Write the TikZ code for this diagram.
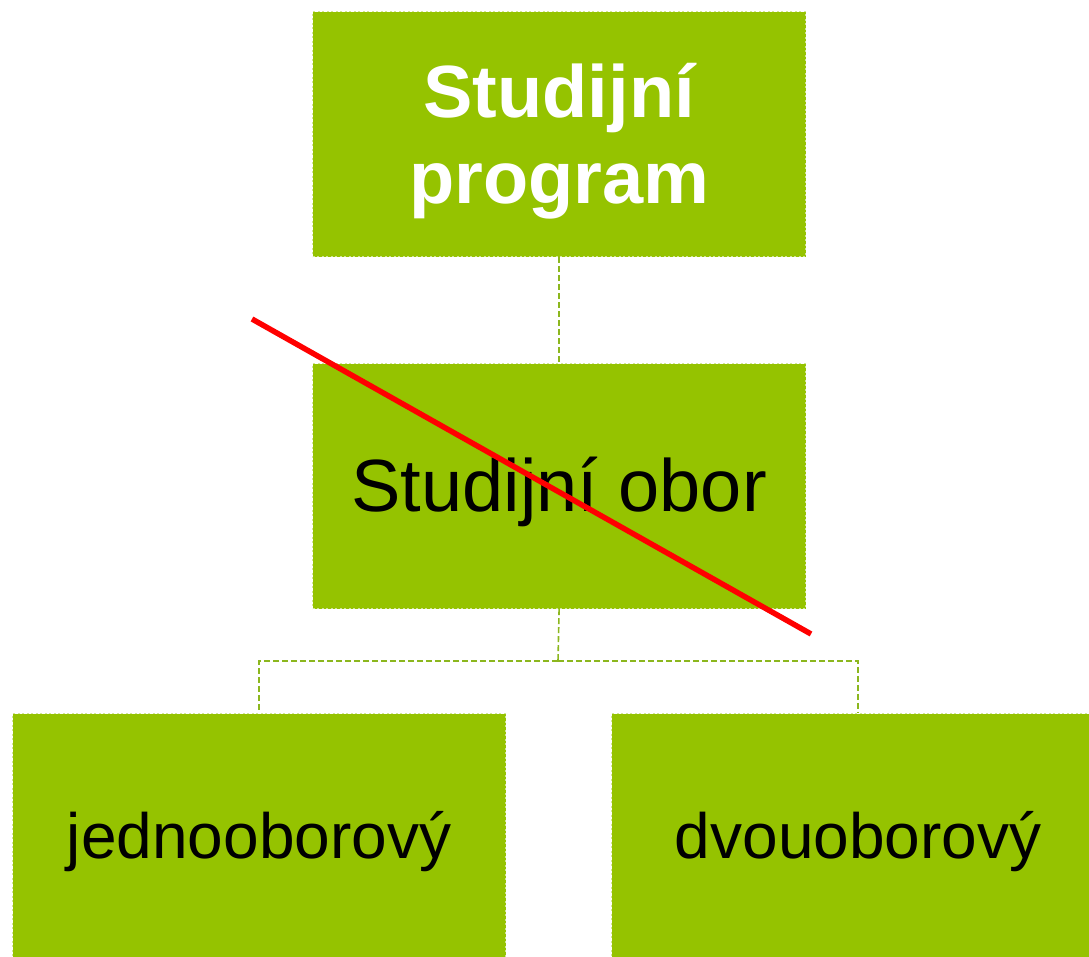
\documentclass[tikz,border=0pt]{standalone}
\usepackage{fontspec}
\setmainfont{Liberation Sans}
\definecolor{boxgreen}{HTML}{95C300}
\definecolor{boxedge}{HTML}{D2E59A}
\definecolor{linkgreen}{HTML}{8CB71E}
\definecolor{crossred}{HTML}{FF0000}
\begin{document}
\begin{tikzpicture}[x=1pt,y=-1pt,
  orgbox/.style={fill=boxgreen,draw=boxedge,line width=1.2pt,dash pattern=on 2pt off 2.5pt,
    minimum width=493pt,minimum height=245pt,inner sep=0pt,anchor=north west},
  boxtext/.style={align=center,inner sep=0pt},
  link/.style={draw=linkgreen,line width=1.6pt,dash pattern=on 6pt off 3pt}]
\useasboundingbox (0,0) rectangle (1089,957);
\node[orgbox] (prog) at (312,11) {};
\node[orgbox] (obor) at (312,363) {};
\node[orgbox] (jedn) at (12,713) {};
\node[orgbox] (dvou) at (611,713) {};
\node[boxtext,text=white,font={\fontsize{74}{86}\selectfont\bfseries}] (progt) at ([yshift=-7pt]prog.center) {Studijní\\program};
\node[boxtext,font={\fontsize{74}{86}\selectfont}] (obort) at ([yshift=-6pt]obor.center) {Studijní obor};
\node[boxtext,font={\fontsize{64}{76}\selectfont}] (jednt) at ([yshift=-5pt]jedn.center) {jednooborový};
\node[boxtext,font={\fontsize{64}{76}\selectfont}] (dvout) at ([yshift=-5pt]dvou.center) {dvouoborový};
\coordinate (junc) at (558,661);
\draw[link] (prog.south) -- (obor.north);
\draw[link] (obor.south) -- (junc);
\draw[link] (junc) -| (jedn.north);
\draw[link] (junc) -| (dvou.north);
\coordinate (xa) at (252,319);
\coordinate (xb) at (811,634);
\draw[crossred,line width=5.5pt] (xa) -- (xb);
\end{tikzpicture}
\end{document}
